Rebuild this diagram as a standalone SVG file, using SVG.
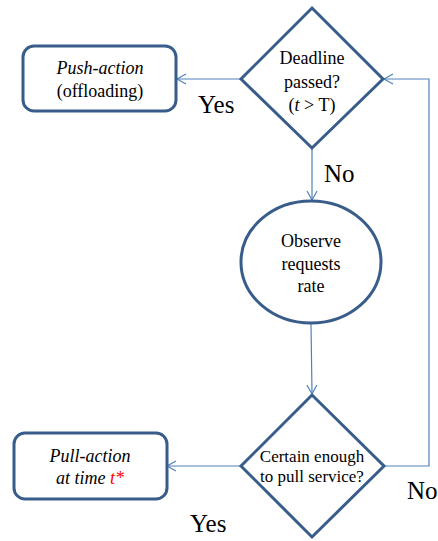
<svg xmlns="http://www.w3.org/2000/svg" width="438" height="541" viewBox="0 0 438 541">
<style>
.shape{fill:#fff;stroke:#385D8A;stroke-width:3}
.conn{fill:none;stroke:#4F81BD;stroke-width:1.2}
.t{font-family:"Liberation Serif","Times New Roman",serif;fill:#000;text-anchor:middle}
.s18{font-size:18px}
.s17{font-size:17px}
.big{font-family:"Liberation Serif","Times New Roman",serif;font-size:25px;fill:#000}
</style>
<defs>
<marker id="arr" markerWidth="12" markerHeight="12" refX="10" refY="6" orient="auto" markerUnits="userSpaceOnUse">
<path d="M1,1 L10,6 L1,11" fill="none" stroke="#4F81BD" stroke-width="1.2"/>
</marker>
</defs>
<rect width="438" height="541" fill="#fff"/>
<g id="connectors">
<line class="conn" x1="241" y1="79" x2="177" y2="79" marker-end="url(#arr)"/>
<line class="conn" x1="312" y1="148" x2="312" y2="200" marker-end="url(#arr)"/>
<line class="conn" x1="311" y1="323" x2="312" y2="394" marker-end="url(#arr)"/>
<line class="conn" x1="241" y1="466" x2="167" y2="466" marker-end="url(#arr)"/>
<polyline class="conn" points="384,466 429,466 429,79 384,79" marker-end="url(#arr)"/>
</g>
<g id="deadline">
<polygon class="shape" points="312,8 383,79 312,148 241,79"/>
<text class="t s18" x="312" y="64">Deadline</text>
<text class="t s18" x="312" y="88">passed?</text>
<text class="t s18" x="312" y="111">(<tspan font-style="italic">t</tspan> &gt; T)</text>
</g>
<g id="push">
<rect class="shape" x="23" y="46" width="153" height="65" rx="11"/>
<text class="t s18" x="100" y="74" font-style="italic">Push-action</text>
<text class="t s18" x="100" y="97">(offloading)</text>
</g>
<g id="observe">
<ellipse class="shape" cx="311" cy="262" rx="70" ry="61"/>
<text class="t s18" x="311" y="247">Observe</text>
<text class="t s18" x="311" y="270">requests</text>
<text class="t s18" x="311" y="292">rate</text>
</g>
<g id="certain">
<polygon class="shape" points="312,395 384,466 312,537 241,466"/>
<text class="t s17" x="312" y="462">Certain enough</text>
<text class="t s17" x="312" y="482">to pull service?</text>
</g>
<g id="pull">
<rect class="shape" x="14" y="433" width="153" height="66" rx="11"/>
<text class="t s18" x="90" y="462" font-style="italic">Pull-action</text>
<text class="t s18" x="90" y="484" font-style="italic">at time <tspan fill="#FF0000">t*</tspan></text>
</g>
<g id="labels">
<text class="big" x="198" y="113">Yes</text>
<text class="big" x="324" y="182">No</text>
<text class="big" x="407" y="499">No</text>
<text class="big" x="190" y="532">Yes</text>
</g>
</svg>
